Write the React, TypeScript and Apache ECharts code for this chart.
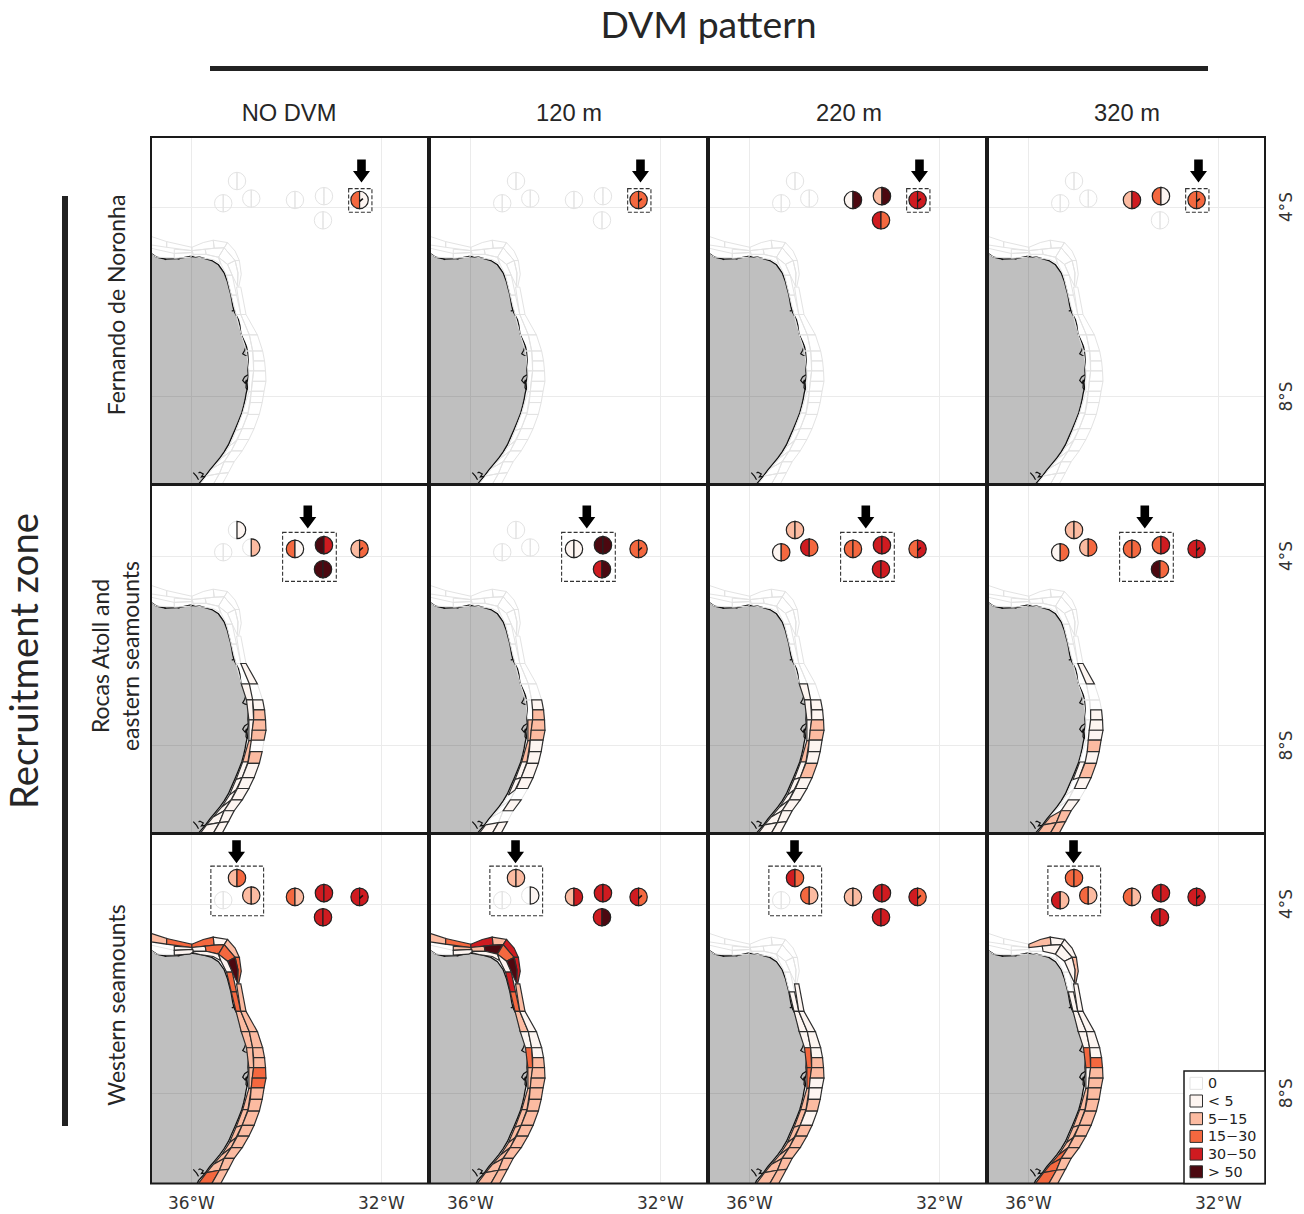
import React, { useEffect, useRef } from "react";
import * as echarts from "echarts";

// ---------- labels ----------
const columnTitles = ["NO DVM", "120 m", "220 m", "320 m"];
const rowTitles = ["Fernando de Noronha", "Rocas Atoll and\neastern seamounts", "Western seamounts"];
const legendLabels = ["0", "< 5", "5−15", "15−30", "30−50", "> 50"];
const classColors = ["none", "#fdf5f1", "#fcbba1", "#f4683f", "#cf1b20", "#4c0810"];
const lonTicks = [-36, -32];
const latTicks = [-8, -4];

// ---------- geography (lon, lat) ----------
const coastline = [
  [-37, -4.93], [-36.85, -4.98], [-36.73, -5.06], [-36.55, -5.10], [-36.27, -5.09], [-36.03, -5.04], [-35.82, -5.06], [-35.57, -5.13],
  [-35.43, -5.22], [-35.31, -5.39], [-35.24, -5.58], [-35.21, -5.70], [-35.17, -5.85], [-35.15, -5.96], [-35.13, -6.08], [-35.10, -6.20], [-35.05, -6.30], [-35.01, -6.38],
  [-34.98, -6.50], [-34.96, -6.66], [-34.92, -6.76], [-34.87, -6.87], [-34.84, -6.95], [-34.82, -7.05], [-34.81, -7.15], [-34.80, -7.30], [-34.81, -7.45], [-34.80, -7.58],
  [-34.83, -7.70], [-34.82, -7.82], [-34.85, -7.95], [-34.87, -8.07], [-34.90, -8.20], [-34.94, -8.35], [-35.01, -8.53], [-35.08, -8.70], [-35.15, -8.86], [-35.22, -9.02],
  [-35.31, -9.17], [-35.40, -9.30], [-35.50, -9.42], [-35.61, -9.55], [-35.71, -9.69], [-35.85, -9.85], [-35.92, -10.0],
];
const landCorners = [[-37, -10.0]];
const estuaries = [
  [[-35.15, -6.20], [-35.10, -6.17], [-35.07, -6.24]],
  [[-34.85, -6.94], [-34.88, -7.03], [-34.92, -7.10], [-34.87, -7.13], [-34.81, -7.14]],
  [[-34.81, -7.54], [-34.88, -7.59], [-34.92, -7.66], [-34.87, -7.72], [-34.84, -7.65], [-34.85, -7.82], [-34.82, -7.86]],
  [[-35.96, -9.61], [-35.89, -9.69], [-35.85, -9.76]],
  [[-35.85, -9.62], [-35.82, -9.60], [-35.75, -9.64], [-35.79, -9.70], [-35.71, -9.69]],
  [[-36.57, -5.09], [-36.53, -5.11]],
  [[-36.29, -5.09], [-36.25, -5.10]],
];
const northCells = [
  [[-36.85, -4.62], [-36.52, -4.73], [-36.52, -4.85], [-36.85, -4.80]],
  [[-36.52, -4.73], [-35.99, -4.85], [-35.99, -4.92], [-36.52, -4.85]],
  [[-35.99, -4.85], [-35.75, -4.75], [-35.54, -4.70], [-35.52, -4.87], [-35.71, -4.89], [-35.99, -4.92]],
  [[-35.54, -4.70], [-35.24, -4.75], [-35.31, -4.86], [-35.52, -4.87]],
  [[-35.24, -4.75], [-35.08, -4.93], [-34.99, -5.13], [-35.08, -5.13], [-35.31, -4.86]],
  [[-35.08, -5.13], [-34.99, -5.13], [-34.95, -5.42], [-35.00, -5.67], [-35.03, -5.67], [-35.02, -5.39]],
  [[-36.36, -4.89], [-35.99, -4.92], [-35.97, -4.96], [-36.36, -4.98]],
  [[-35.99, -4.92], [-35.71, -4.89], [-35.69, -5.00], [-35.97, -5.00]],
  [[-35.71, -4.89], [-35.52, -4.87], [-35.31, -4.86], [-35.43, -5.06], [-35.69, -5.00]],
  [[-35.31, -4.86], [-35.08, -5.13], [-35.24, -5.21], [-35.43, -5.06]],
  [[-35.24, -5.21], [-35.08, -5.13], [-35.02, -5.39], [-35.03, -5.67], [-35.14, -5.44]],
  [[-36.85, -4.87], [-36.36, -4.98], [-36.36, -5.07], [-36.73, -5.06], [-36.85, -4.99]],
  [[-36.36, -4.98], [-35.97, -4.96], [-35.96, -5.01], [-36.03, -5.06], [-36.36, -5.08]],
  [[-35.96, -5.00], [-35.69, -5.00], [-35.43, -5.06], [-35.38, -5.20], [-35.54, -5.11], [-35.82, -5.07], [-35.96, -5.03]],
  [[-35.43, -5.06], [-35.24, -5.21], [-35.14, -5.44], [-35.26, -5.44], [-35.38, -5.20]],
];
const innerSections = [
  [[-35.26, -5.44], [-35.14, -5.44]], [[-35.16, -5.86], [-35.05, -5.86]], [[-35.06, -6.27], [-34.96, -6.27]], [[-34.95, -6.70], [-34.78, -6.70]],
  [[-34.84, -7.04], [-34.71, -7.04]], [[-34.79, -7.46], [-34.69, -7.46]], [[-34.79, -7.90], [-34.74, -7.90]], [[-34.92, -8.35], [-34.81, -8.35]],
  [[-35.06, -8.72], [-34.93, -8.68]], [[-35.20, -9.05], [-35.06, -8.94]], [[-35.36, -9.30], [-35.16, -9.15]], [[-35.54, -9.51], [-35.31, -9.38]],
  [[-35.68, -9.68], [-35.41, -9.63]], [[-35.92, -10.0], [-35.62, -10.0]],
];
const outerSections = [
  [[-35.05, -5.69], [-34.96, -5.69]], [[-34.96, -6.27], [-34.85, -6.27]], [[-34.78, -6.70], [-34.61, -6.70]], [[-34.71, -7.04], [-34.50, -7.04]],
  [[-34.69, -7.25], [-34.46, -7.25]], [[-34.69, -7.46], [-34.44, -7.46]], [[-34.72, -7.68], [-34.43, -7.68]], [[-34.74, -7.89], [-34.47, -7.89]],
  [[-34.76, -8.13], [-34.51, -8.13]], [[-34.81, -8.38], [-34.57, -8.38]], [[-34.93, -8.68], [-34.68, -8.68]], [[-35.03, -8.91], [-34.79, -8.91]],
  [[-35.16, -9.15], [-34.93, -9.15]], [[-35.31, -9.38], [-35.10, -9.38]], [[-35.41, -9.63], [-35.22, -9.61]], [[-35.62, -10.0], [-35.43, -10.0]],
];
const seamountLon = [-35.04, -34.74, -35.33, -33.82, -33.21, -33.23, -32.46];
const seamountLat = [-3.45, -3.82, -3.92, -3.85, -3.77, -4.28, -3.85];
const islandMark = [[-32.46, -3.88], [-32.39, -3.82]];

// ---------- recruitment zone boxes [lonW, lonE, latN, latS] and arrow tips ----------
const zoneBoxes = [[-32.69, -32.20, -3.61, -4.11], [-34.08, -32.95, -3.50, -4.535], [-35.59, -34.48, -3.20, -4.25]];
const arrowTips = [[-32.42, -3.48], [-33.55, -3.42], [-35.05, -3.14]];

// ---------- class per seamount half: A L,R  B L,R  C L,R  D L,R  E L,R  F L,R  G L,R ----------
const noronhaNoDvm = [0, 0, 0, 0, 0, 0, 0, 0, 0, 0, 0, 0, 3, 1];
const noronha120 = [0, 0, 0, 0, 0, 0, 0, 0, 0, 0, 0, 0, 3, 3];
const noronha220 = [0, 0, 0, 0, 0, 0, 1, 5, 2, 5, 4, 3, 4, 4];
const noronha320 = [0, 0, 0, 0, 0, 0, 2, 4, 3, 1, 0, 0, 3, 3];
const rocasNoDvm = [0, 1, 0, 2, 0, 0, 3, 1, 5, 4, 5, 5, 2, 3];
const rocas120 = [0, 0, 0, 0, 0, 0, 1, 1, 5, 5, 4, 5, 3, 3];
const rocas220 = [2, 2, 4, 3, 1, 3, 3, 3, 4, 4, 4, 4, 3, 4];
const rocas320 = [2, 2, 2, 3, 1, 3, 3, 3, 3, 4, 5, 3, 4, 4];
const westernNoDvm = [2, 3, 2, 2, 0, 0, 3, 2, 4, 4, 4, 4, 4, 4];
const western120 = [2, 2, 0, 1, 0, 0, 2, 4, 4, 4, 4, 5, 4, 3];
const western220 = [4, 3, 3, 2, 0, 0, 2, 2, 4, 4, 4, 4, 4, 3];
const western320 = [3, 3, 3, 2, 4, 2, 3, 2, 4, 4, 4, 4, 4, 4];
const seamountClasses = [
  noronhaNoDvm, noronha120, noronha220, noronha320,
  rocasNoDvm, rocas120, rocas220, rocas320,
  westernNoDvm, western120, western220, western320,
];

// ---------- class per shelf cell: north 15, inner 13, outer 15 ----------
const shelfEmpty = new Array(43).fill(0);
const shelfRocasNoDvm = [0,0,0,0,0,0, 0,0,0,0,0, 0,0,0,0,
  0,0,0,1,1,1,2,1,1,1,1,1,1,
  0,1,0,1,2,2,2,0,2,1,1,1,1,1,1];
const shelfRocas120 = [0,0,0,0,0,0, 0,0,0,0,0, 0,0,0,0,
  0,0,0,0,0,2,2,1,1,0,0,0,1,
  0,0,0,1,2,2,2,1,1,1,1,0,1,0,1];
const shelfRocas220 = [0,0,0,0,0,0, 0,0,0,0,0, 0,0,0,0,
  0,0,0,1,1,1,2,1,1,1,1,1,1,
  0,0,0,1,1,2,2,1,1,2,1,1,1,1,1];
const shelfRocas320 = [0,0,0,0,0,0, 0,0,0,0,0, 0,0,0,0,
  0,0,0,0,0,0,0,1,0,0,0,2,2,
  0,1,0,0,1,1,1,2,1,2,1,0,1,2,2];
const shelfWesternNoDvm = [2,3,3,1,2,3, 1,1,3,3,5, 0,1,1,1,
  3,3,2,2,2,2,2,2,2,2,2,2,3,
  2,2,2,2,2,3,3,2,2,2,2,2,2,2,2];
const shelfWestern120 = [2,3,4,2,4,4, 2,2,5,3,5, 0,1,1,1,
  4,3,2,1,3,2,2,2,2,2,2,2,2,
  2,1,1,1,2,2,2,2,2,2,2,2,2,2,2];
const shelfWestern220 = [0,0,0,0,0,0, 0,0,0,0,0, 0,0,0,0,
  0,1,1,1,3,3,2,2,2,2,2,2,2,
  1,1,1,1,2,2,1,1,2,1,2,2,2,2,2];
const shelfWestern320 = [0,0,2,1,1,2, 0,0,1,1,1, 0,0,0,0,
  0,1,1,1,3,1,2,2,2,2,3,3,3,
  1,1,1,1,3,2,2,2,2,2,2,2,2,2,2];
const shelfClasses = [
  shelfEmpty, shelfEmpty, shelfEmpty, shelfEmpty,
  shelfRocasNoDvm, shelfRocas120, shelfRocas220, shelfRocas320,
  shelfWesternNoDvm, shelfWestern120, shelfWestern220, shelfWestern320,
];

// ---------- layout ----------
const colLeft = [151, 430, 709, 988];
const colWidth = 277;
const rowTop = [137, 485, 834];
const rowHeight = [347, 348, 349.5];
const latTop = [-2.52, -2.50, -2.52];
const latBottom = [-9.85, -9.85, -9.91];
const lonWest = -36.85;
const lonEast = -31.02;

const allCells: number[][][] = [...northCells];
for (let i = 0; i + 1 < innerSections.length; i++) {
  const a = innerSections[i], b = innerSections[i + 1];
  allCells.push([a[0], a[1], b[1], b[0]]);
}
for (let i = 0; i + 1 < outerSections.length; i++) {
  const a = outerSections[i], b = outerSections[i + 1];
  allCells.push([a[0], a[1], b[1], b[0]]);
}

const FAINT = "#e3e3e3";
const EDGE = "#2e2e2e";

function buildOption() {
  const grid: any[] = [], xAxis: any[] = [], yAxis: any[] = [], series: any[] = [];
  for (let r = 0; r < 3; r++) {
    for (let c = 0; c < 4; c++) {
      const idx = r * 4 + c;
      grid.push({ left: colLeft[c], top: rowTop[r], width: colWidth, height: rowHeight[r], containLabel: false });
      xAxis.push({
        type: "value", gridIndex: idx, min: lonWest, max: lonEast,
        axisLine: { show: false }, axisTick: { show: false, customValues: lonTicks },
        splitLine: { show: true, lineStyle: { color: "#ebebeb", width: 1 } },
        axisLabel: {
          show: r === 2, customValues: lonTicks, margin: 11, fontFamily: "DejaVu Sans", fontSize: 17, color: "#333",
          formatter: (v: number) => `${Math.abs(v)}°W`,
        },
      });
      yAxis.push({
        type: "value", gridIndex: idx, min: latBottom[r], max: latTop[r], position: "right",
        axisLine: { show: false }, axisTick: { show: false, customValues: latTicks },
        splitLine: { show: true, lineStyle: { color: "#ebebeb", width: 1 } },
        axisLabel: {
          show: c === 3, customValues: latTicks, margin: 12, rotate: 90, fontFamily: "DejaVu Sans", fontSize: 17, color: "#333",
          formatter: (v: number) => `${Math.abs(v)}°S`,
        },
      });
      const common = { type: "custom", coordinateSystem: "cartesian2d", xAxisIndex: idx, yAxisIndex: idx, clip: true, silent: true, animation: false };

      // land
      series.push({
        ...common, data: [[-36, -7]],
        renderItem: (_p: any, api: any) => ({
          type: "group",
          children: [
            { type: "polygon", shape: { points: [...coastline, ...landCorners].map((q) => api.coord(q)) }, style: { fill: "rgba(0,0,0,0.25)", stroke: "none" } },
            { type: "polyline", shape: { points: coastline.map((q) => api.coord(q)) }, style: { fill: "none", stroke: "#111", lineWidth: 1.3 } },
            ...estuaries.map((e) => ({ type: "polyline", shape: { points: e.map((q) => api.coord(q)) }, style: { fill: "none", stroke: "#111", lineWidth: 1.2 } })),
          ],
        }),
      });

      // shelf cells: empty ones first so that outlined ones sit on top
      const cellOrder = allCells.map((_, i) => i).sort((a, b) => (shelfClasses[idx][a] > 0 ? 1 : 0) - (shelfClasses[idx][b] > 0 ? 1 : 0));
      series.push({
        ...common,
        data: cellOrder.map((i) => [allCells[i][0][0], allCells[i][0][1], i, shelfClasses[idx][i]]),
        renderItem: (_p: any, api: any) => {
          const cell = allCells[api.value(2)];
          const v = api.value(3);
          return {
            type: "polygon",
            shape: { points: cell.map((q) => api.coord(q)) },
            style: v > 0 ? { fill: classColors[v], stroke: EDGE, lineWidth: 1.2 } : { fill: "none", stroke: FAINT, lineWidth: 1 },
          };
        },
      });

      // seamounts: two half discs each
      const halves: number[][] = [];
      seamountLon.forEach((lon, i) => {
        [0, 1].forEach((side) => halves.push([lon, seamountLat[i], side, seamountClasses[idx][i * 2 + side]]));
      });
      halves.sort((a, b) => (a[3] > 0 ? 1 : 0) - (b[3] > 0 ? 1 : 0));
      series.push({
        ...common,
        data: halves,
        renderItem: (_p: any, api: any) => {
          const p = api.coord([api.value(0), api.value(1)]);
          const side = api.value(2);
          const v = api.value(3);
          return {
            type: "sector",
            shape: {
              cx: p[0], cy: p[1], r: 8.7, r0: 0, clockwise: true,
              startAngle: side ? -Math.PI / 2 : Math.PI / 2,
              endAngle: side ? Math.PI / 2 : (3 * Math.PI) / 2,
            },
            style: v > 0 ? { fill: classColors[v], stroke: "#222", lineWidth: 1.2 } : { fill: "none", stroke: FAINT, lineWidth: 1 },
          };
        },
      });

      // island mark, dashed box and arrow
      series.push({
        ...common,
        data: [[arrowTips[r][0], arrowTips[r][1]]],
        renderItem: (_p: any, api: any) => {
          const b = zoneBoxes[r];
          const a = api.coord([b[0], b[2]]);
          const z = api.coord([b[1], b[3]]);
          const t = api.coord([api.value(0), api.value(1)]);
          return {
            type: "group",
            children: [
              { type: "polyline", shape: { points: islandMark.map((q) => api.coord(q)) }, style: { fill: "none", stroke: "#111", lineWidth: 1.6 } },
              { type: "rect", shape: { x: a[0], y: a[1], width: z[0] - a[0], height: z[1] - a[1] }, style: { fill: "none", stroke: "#333", lineWidth: 1.1, lineDash: [4, 2] } },
              {
                type: "polygon",
                shape: {
                  points: [
                    [t[0], t[1]], [t[0] - 8.5, t[1] - 11.5], [t[0] - 4.3, t[1] - 11.5], [t[0] - 4.3, t[1] - 23],
                    [t[0] + 4.3, t[1] - 23], [t[0] + 4.3, t[1] - 11.5], [t[0] + 8.5, t[1] - 11.5],
                  ],
                },
                style: { fill: "#000", stroke: "none" },
              },
            ],
          };
        },
      });
    }
  }

  const g: any[] = [];
  const Z = 60;
  // panel frames
  for (let r = 0; r < 3; r++) {
    for (let c = 0; c < 4; c++) {
      g.push({ type: "rect", z: Z, silent: true, shape: { x: colLeft[c], y: rowTop[r], width: colWidth, height: rowHeight[r] }, style: { fill: "none", stroke: "#1a1a1a", lineWidth: 2 } });
    }
  }
  // header bars
  g.push({ type: "rect", z: Z, shape: { x: 210, y: 66, width: 998, height: 5 }, style: { fill: "#222" } });
  g.push({ type: "rect", z: Z, shape: { x: 62, y: 196, width: 6, height: 930 }, style: { fill: "#222" } });
  g.push({ type: "text", z: Z, x: 708.5, y: 23, style: { text: "DVM pattern", font: '37.4px Lato', fill: "#262626", align: "center", verticalAlign: "middle" } });
  g.push({ type: "text", z: Z, x: 23, y: 661, rotation: Math.PI / 2, style: { text: "Recruitment zone", font: '38.3px Lato', fill: "#262626", align: "center", verticalAlign: "middle" } });
  const colCenters = [289, 569, 849, 1127];
  columnTitles.forEach((t, i) => {
    g.push({ type: "text", z: Z, x: colCenters[i], y: 113, style: { text: t, font: '23.7px "Liberation Sans"', fill: "#262626", align: "center", verticalAlign: "middle" } });
  });
  const rowX = [116, 115, 116];
  const rowY = [305, 656, 1005];
  rowTitles.forEach((t, i) => {
    g.push({ type: "text", z: Z, x: rowX[i], y: rowY[i], rotation: Math.PI / 2, style: { text: t, font: '23px Lato', lineHeight: 30, fill: "#262626", align: "center", verticalAlign: "middle" } });
  });
  // legend
  g.push({ type: "rect", z: Z + 1, shape: { x: 1184, y: 1071, width: 81, height: 112.5 }, style: { fill: "#fff", stroke: "#1a1a1a", lineWidth: 1.5 } });
  legendLabels.forEach((t, i) => {
    const y = 1083.3 + i * 17.7;
    g.push({ type: "rect", z: Z + 2, shape: { x: 1190, y: y - 6, width: 12.5, height: 12 }, style: { fill: i === 0 ? "#fff" : classColors[i], stroke: i === 0 ? FAINT : EDGE, lineWidth: 1 } });
    g.push({ type: "text", z: Z + 2, x: 1208, y, style: { text: t, font: '14.3px "DejaVu Sans"', fill: "#222", align: "left", verticalAlign: "middle" } });
  });

  return { animation: false, backgroundColor: "#fff", grid, xAxis, yAxis, series, graphic: g };
}

export default function App() {
  const ref = useRef<HTMLDivElement>(null);
  useEffect(() => {
    document.body.style.margin = "0";
    const chart = echarts.init(ref.current!, undefined, { renderer: "svg" });
    chart.setOption(buildOption() as any);
    return () => chart.dispose();
  }, []);
  return <div ref={ref} style={{ width: 1304, height: 1214 }} />;
}
